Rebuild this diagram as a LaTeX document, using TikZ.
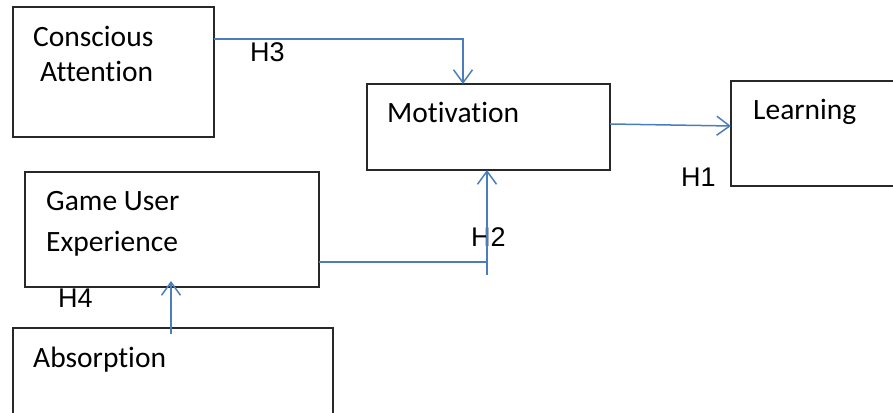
\documentclass[tikz,border=0pt]{standalone}
\usepackage{fontspec}
\setmainfont[Ligatures={NoCommon}]{Carlito}
\newfontfamily\labelfont{Liberation Sans}
\usetikzlibrary{arrows.meta}
\definecolor{connblue}{RGB}{74,126,187}
\definecolor{boxgray}{RGB}{40,40,40}
\tikzset{
  box/.style={draw=boxgray, line width=1.2pt, fill=none},
  boxtext/.style={anchor=base west, inner sep=0pt, font=\fontsize{29.5}{31}\selectfont},
  hlabel/.style={anchor=base west, inner sep=0pt, font={\labelfont\fontsize{27}{29}\selectfont}},
  conn/.style={draw=connblue, line width=1.5pt},
  arr/.style={conn, -{Straight Barb[length=13pt,width=19pt,line width=1.5pt]}}
}
\begin{document}
\begin{tikzpicture}[x=1pt,y=1pt]
\useasboundingbox (0,0) rectangle (893,412);
% boxes
\draw[box] (13,275) rectangle (214,405);
\draw[box] (367,242) rectangle (610,328);
\draw[box] (731,226) rectangle (905,331);
\draw[box] (25,125) rectangle (319,240);
\draw[box] (13,-10) rectangle (333,84);
% box texts
\node[boxtext] (t1) at (33,365) {Conscious};
\node[boxtext] (t2) at (40,330) {Attention};
\node[boxtext] (t3) at (387,289) {Motivation};
\node[boxtext] (t4) at (753,292) {Learning};
\node[boxtext] (t5) at (46,201) {Game User};
\node[boxtext] (t6) at (46,160) {Experience};
\node[boxtext] (t7) at (33,45) {Absorption};
% labels
\node[hlabel] (h3) at (250,350) {H3};
\node[hlabel] (h1) at (681,225) {H1};
\node[hlabel] (h2) at (471,165) {H2};
\node[hlabel] (h4) at (58,104) {H4};
% connector points
\coordinate (caout) at (214,373);
\coordinate (h3c) at (463,373);
\coordinate (motin) at (463,328);
\coordinate (motout) at (610,288);
\coordinate (learnin) at (731,286);
\coordinate (gueout) at (319,150);
\coordinate (h2c) at (487,150);
\coordinate (h2low) at (487,137);
\coordinate (motbot) at (487,242);
\coordinate (absout) at (171,78);
\coordinate (guein) at (171,131);
% connectors
\draw[arr] (caout) -- (h3c) -- (motin);
\draw[arr] (motout) -- (learnin);
\draw[conn] (gueout) -- (h2c);
\draw[arr] (h2low) -- (motbot);
\draw[arr] (absout) -- (guein);
\end{tikzpicture}
\end{document}
